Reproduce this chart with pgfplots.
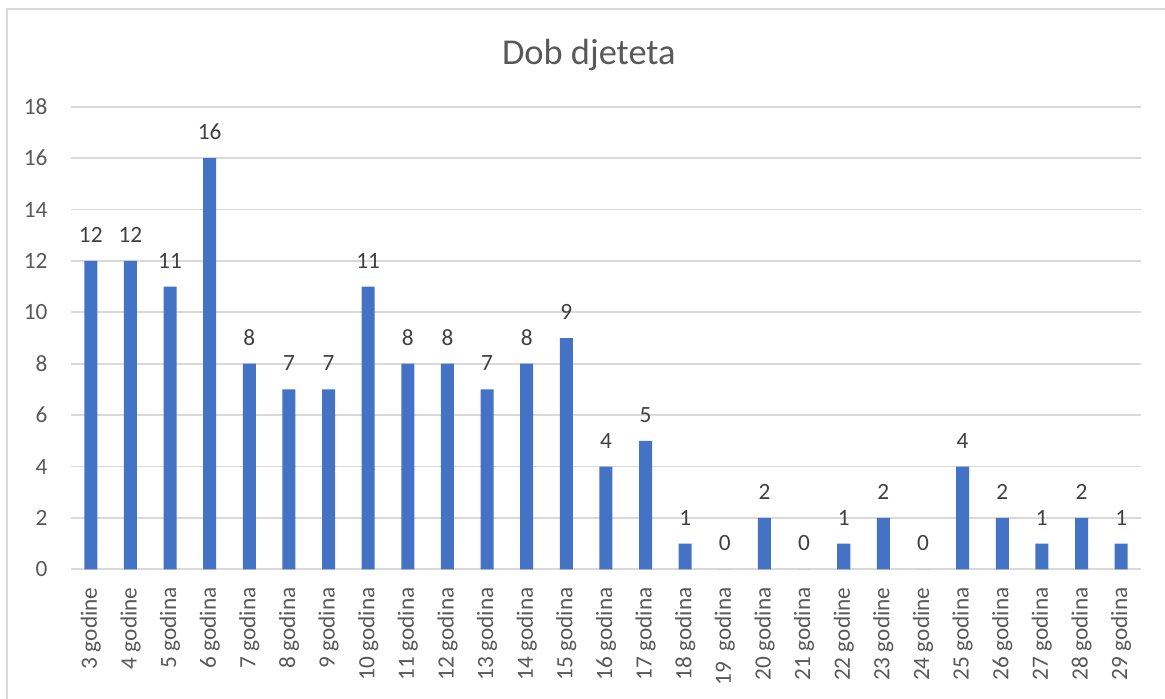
\documentclass[border=0pt]{standalone}
\usepackage{fontspec}
\setmainfont{Carlito}
\usepackage{pgfplots}
\pgfplotsset{compat=1.18}
\definecolor{barblue}{HTML}{4472C4}
\definecolor{gridgray}{HTML}{D9D9D9}
\definecolor{ticktext}{HTML}{595959}
\definecolor{labeltext}{HTML}{404040}
\begin{document}
\begin{tikzpicture}
\useasboundingbox (-29.25pt,-53.4pt) rectangle (450.8pt,234.6pt);
\draw[gridgray, line width=0.6pt] (-26.4pt,-60pt) rectangle (453.2pt,230.8pt);
\node[anchor=base, font=\fontsize{15}{18}\selectfont, text=ticktext] at (213.4pt,208.2pt) {Dob djeteta};
\begin{axis}[
  at={(0,0)}, anchor=south west,
  scale only axis, width=440.9pt, height=190.6pt,
  ybar, bar width=5.36pt,
  xmin=-0.5, xmax=26.5, ymin=0, ymax=18,
  xtick={0,...,26},
  xticklabels={3 godine,4 godine,5 godina,6 godina,7 godina,8 godina,9 godina,10 godina,11 godina,12 godina,13 godina,14 godina,15 godina,16 godina,17 godina,18 godina,19\ \ godina,20 godina,21 godina,22 godine,23 godine,24 godine,25 godina,26 godina,27 godina,28 godina,29 godina},
  ytick={0,2,...,18},
  ymajorgrids, grid style={gridgray, line width=0.75pt},
  axis lines*=left,
  y axis line style={draw=none},
  x axis line style={gridgray, line width=0.75pt},
  major tick length=0pt,
  /pgf/number format/assume math mode=true,
  xticklabel style={yshift=-7.3pt, rotate=90, anchor=east, inner sep=0pt, font=\fontsize{9.6}{11}\selectfont, text=ticktext},
  yticklabel style={anchor=east, inner sep=0pt, xshift=-9.5pt, font=\fontsize{9.6}{11}\selectfont, text=ticktext},
  nodes near coords,
  every node near coord/.append style={anchor=south, inner sep=0pt, yshift=7.4pt, font=\fontsize{9.6}{11}\selectfont, text=labeltext},
  clip=false,
]
\addplot[fill=barblue, draw=none] coordinates {
(0,12) (1,12) (2,11) (3,16) (4,8) (5,7) (6,7) (7,11) (8,8) (9,8) (10,7) (11,8) (12,9) (13,4)
(14,5) (15,1) (16,0) (17,2) (18,0) (19,1) (20,2) (21,0) (22,4) (23,2) (24,1) (25,2) (26,1)};
\end{axis}
\end{tikzpicture}
\end{document}
